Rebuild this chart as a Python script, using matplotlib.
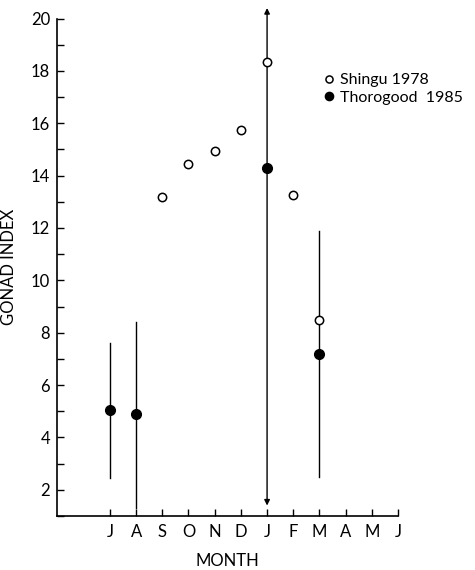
import matplotlib
matplotlib.use("Agg")
import matplotlib.pyplot as plt
from matplotlib.ticker import MultipleLocator

plt.rcParams['font.family'] = ['Lato', 'DejaVu Sans']

months = ['J', 'A', 'S', 'O', 'N', 'D', 'J', 'F', 'M', 'A', 'M', 'J']

# Shingu 1978 (open circles): month index and gonad index
shingu_x = [2, 3, 4, 5, 6, 7, 8]
shingu_y = [13.2, 14.45, 14.95, 15.75, 18.35, 13.25, 8.5]

# Thorogood 1985 (filled circles) with ranges
thoro_x = [0, 1, 6, 8]
thoro_y = [5.05, 4.9, 14.3, 7.2]
thoro_lo = [2.45, 1.3, 1.4, 2.5]
thoro_hi = [7.6, 8.4, 20.4, 11.9]
# ranges that run off the scale get arrowheads
thoro_arrow = [False, False, True, False]

fig = plt.figure(figsize=(4.75, 5.70), dpi=100)
ax = fig.add_axes([0.12, 0.0947, 0.718, 0.8728])

for x, y, lo, hi, arr in zip(thoro_x, thoro_y, thoro_lo, thoro_hi, thoro_arrow):
    if arr:
        for end in (lo, hi):
            ax.annotate('', xy=(x, end), xytext=(x, y),
                        arrowprops=dict(arrowstyle='-|>', color='black', lw=1.0,
                                        mutation_scale=8, shrinkA=0, shrinkB=0),
                        annotation_clip=False)
    else:
        ax.plot([x, x], [lo, hi], color='black', lw=1.0, clip_on=False, zorder=2)

ax.plot(thoro_x, thoro_y, 'o', color='black', ms=7, ls='none', zorder=3,
        clip_on=False, label='Thorogood  1985')
ax.plot(shingu_x, shingu_y, 'o', mfc='white', mec='black', mew=1.1, ms=6,
        ls='none', zorder=4, clip_on=False, label='Shingu 1978')

ax.set_xlim(-2.02, 11)
ax.set_ylim(1.0, 20)
ax.set_xticks(range(len(months)))
ax.set_xticklabels(months)
ax.yaxis.set_major_locator(MultipleLocator(2))
ax.yaxis.set_minor_locator(MultipleLocator(1))
ax.set_yticks(range(2, 21, 2))

for s in ('top', 'right'):
    ax.spines[s].set_visible(False)
for s in ('left', 'bottom'):
    ax.spines[s].set_linewidth(1.2)

ax.tick_params(axis='both', which='both', direction='in', width=1.0,
               labelsize=12, colors='black')
ax.tick_params(axis='y', which='major', length=5, pad=5)
ax.tick_params(axis='y', which='minor', length=5)
ax.tick_params(axis='x', which='major', length=5, pad=6)

ax.set_ylabel('GONAD INDEX', fontsize=12, labelpad=10)
ax.set_xlabel('MONTH', fontsize=12, labelpad=9)

handles, labels = ax.get_legend_handles_labels()
leg = fig.legend(handles[::-1], labels[::-1], loc='upper left',
                 bbox_to_anchor=(0.682, 0.872), frameon=False, fontsize=11.5,
                 handlelength=0.6, handletextpad=0.4, labelspacing=0.2,
                 borderpad=0, borderaxespad=0, markerscale=0.85)

fig.savefig('out.png', dpi=100)
